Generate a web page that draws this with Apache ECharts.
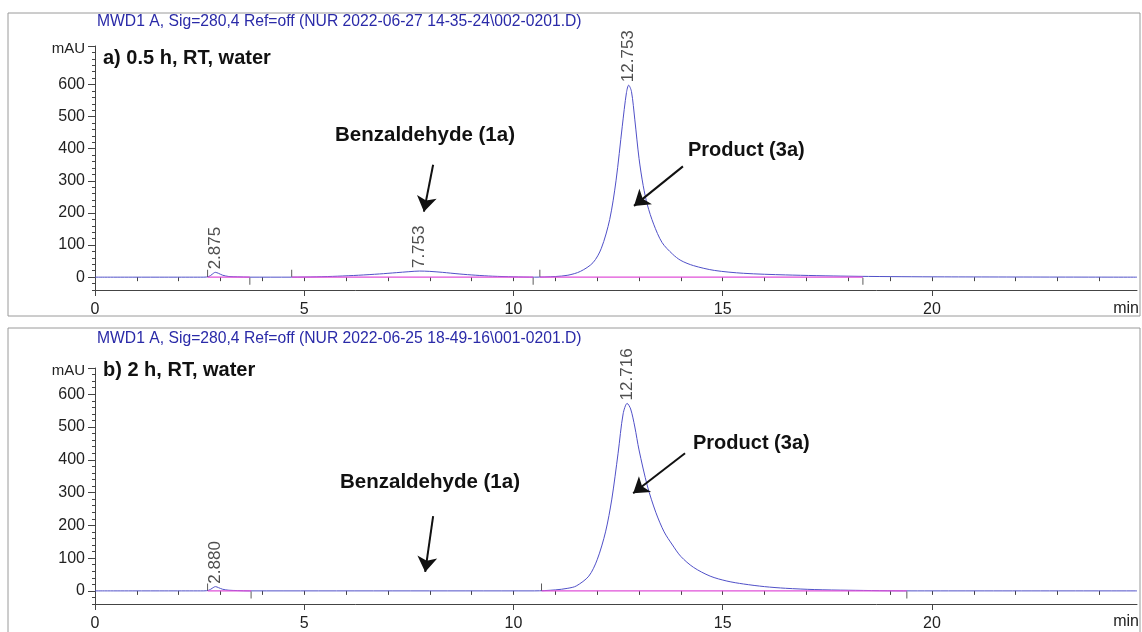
<!DOCTYPE html>
<html><head><meta charset="utf-8">
<script src="https://cdn.jsdelivr.net/npm/echarts@6/dist/echarts.min.js"></script>
<style>html,body{margin:0;padding:0;background:#fff}#c{width:1142px;height:632px}</style>
</head><body><div id="c"></div>
<script>
// ---- data ----
const timeA = [0, 2.6, 2.72, 2.8, 2.875, 2.95, 3.05, 3.2, 3.4, 3.7, 4.7, 5.3, 5.8, 6.3, 6.8, 7.2, 7.5, 7.753, 8.0, 8.3, 8.7, 9.1, 9.5, 10.0, 10.5, 11.0, 11.3, 11.6, 11.9, 12.1, 12.3, 12.45, 12.6, 12.7, 12.753, 12.82, 12.9, 13.0, 13.1, 13.2, 13.35, 13.55, 13.8, 14.0, 14.3, 14.8, 15.5, 16.5, 18.0, 20.0, 24.9];
const valA  = [0, 0, 2, 9, 15, 12, 6, 2, 1, 0, 0, 1, 3, 6, 10, 14, 17, 19, 18, 15, 10, 6, 3, 1, 0, 2, 6, 18, 45, 90, 180, 300, 470, 575, 598, 578, 490, 370, 285, 225, 165, 108, 72, 52, 36, 21, 12, 7, 3, 1, 0];
const timeB = [0, 2.6, 2.72, 2.8, 2.88, 2.95, 3.05, 3.2, 3.4, 3.7, 10.5, 11.0, 11.3, 11.5, 11.8, 12.0, 12.2, 12.35, 12.5, 12.62, 12.716, 12.8, 12.9, 13.0, 13.2, 13.4, 13.6, 13.8, 14.0, 14.3, 14.7, 15.1, 15.5, 16.0, 16.5, 17.2, 18.0, 19.5, 24.9];
const valB  = [0, 0, 2, 8, 13, 10, 5, 2, 1, 0, 0, 3, 8, 15, 45, 95, 180, 280, 420, 540, 572, 555, 500, 430, 320, 240, 180, 140, 105, 72, 45, 30, 21, 13, 8, 4, 2, 0, 0];
const peakTimesA = [2.875, 7.753, 12.753];
const peakHeightsA = [15, 19, 598];
const peakTimesB = [2.880, 12.716];
const peakHeightsB = [13, 572];
const baselineA = [[2.69, 3.70], [4.70, 10.47], [10.63, 18.35]];
const baselineB = [[2.69, 3.73], [10.67, 19.4]];
const eventsUpA = [2.69, 4.70, 10.63];
const eventsDownA = [3.70, 10.47, 18.35];
const eventsUpB = [2.69, 10.67];
const eventsDownB = [3.73, 19.4];
const xMajorTicks = [0, 5, 10, 15, 20];
const xMinorTicks = [0,1,2,3,4,5,6,7,8,9,10,11,12,13,14,15,16,17,18,19,20,21,22,23,24];
const yTickLabels = [0, 100, 200, 300, 400, 500, 600];
const titleA = 'MWD1 A, Sig=280,4 Ref=off (NUR 2022-06-27 14-35-24\\002-0201.D)';
const titleB = 'MWD1 A, Sig=280,4 Ref=off (NUR 2022-06-25 18-49-16\\001-0201.D)';
const panelA = 'a) 0.5 h, RT, water';
const panelB = 'b) 2 h, RT, water';
// arrows in data coordinates [x0,y0,x1,y1]
const arrowsA = [[8.08, 350, 7.86, 204], [14.05, 345, 12.88, 222]];
const arrowsB = [[8.08, 228, 7.89, 58], [14.1, 420, 12.86, 298]];

const FONT = 'Liberation Sans, Arial, sans-serif';
const LINE = '#5050c8';
const MAG = '#e050d8';
const AX = '#444';

const chart = echarts.init(document.getElementById('c'), null, {renderer: 'canvas'});
const zip = (t, v) => t.map((x, i) => [x, v[i]]);

function xAxes(grid) {
  return [
    {gridIndex: grid, type: 'value', min: 0, max: 24.9, position: 'bottom',
     axisLine: {onZero: false, lineStyle: {color: AX, width: 1}},
     axisTick: {customValues: xMajorTicks, length: 6, lineStyle: {color: AX}},
     axisLabel: {customValues: xMajorTicks, margin: 12, fontFamily: FONT, fontSize: 16, color: '#222'},
     splitLine: {show: false}},
    {gridIndex: grid, type: 'value', min: 0, max: 24.9, position: 'bottom',
     axisLine: {show: false},
     axisTick: {customValues: xMinorTicks, length: 4, lineStyle: {color: AX}},
     axisLabel: {show: false}, splitLine: {show: false}}
  ];
}
function yAxes(grid, max) {
  return [
    {gridIndex: grid, type: 'value', min: -40, max: max, position: 'left',
     axisLine: {show: true, onZero: false, lineStyle: {color: AX, width: 1}},
     axisTick: {customValues: yTickLabels.concat([max]), length: 7, lineStyle: {color: AX}},
     axisLabel: {customValues: yTickLabels, margin: 10, fontFamily: FONT, fontSize: 16, color: '#222'},
     splitLine: {show: false},
     name: 'mAU', nameLocation: 'end', nameGap: -3,
     nameTextStyle: {fontFamily: FONT, fontSize: 15, color: '#222', align: 'right', verticalAlign: 'middle', padding: [0, 10, 0, 0]}},
    {gridIndex: grid, type: 'value', min: -40, max: max, interval: 20, position: 'left',
     axisLine: {show: false},
     axisTick: {length: 3, lineStyle: {color: AX}},
     axisLabel: {show: false}, splitLine: {show: false}}
  ];
}
function panelSeries(grid, t, v, pt, ph, base, up, down, arrows) {
  const xi = grid * 2, yi = grid * 2;
  const s = [];
  s.push({type: 'line', xAxisIndex: xi, yAxisIndex: yi, data: zip(t, v), showSymbol: false, symbol: 'none',
    smooth: 0.3, lineStyle: {color: LINE, width: 1}, z: 3, silent: true,
    markLine: {silent: true, symbol: ['none', 'arrow'], symbolSize: 15, animation: false,
      lineStyle: {color: '#111', width: 2, type: 'solid'}, label: {show: false},
      data: arrows.map(a => [{coord: [a[0], a[1]], symbol: 'none'}, {coord: [a[2], a[3]], symbol: 'arrow', symbolSize: 15}])}});
  base.forEach(b => s.push({type: 'line', xAxisIndex: xi, yAxisIndex: yi, data: [[b[0], 0], [b[1], 0]],
    symbol: 'none', lineStyle: {color: MAG, width: 1.2}, z: 4, silent: true}));
  s.push({type: 'scatter', xAxisIndex: xi, yAxisIndex: yi, data: up.map(x => [x, 0]), symbol: 'rect',
    symbolSize: [1, 7], symbolOffset: [0, -4], itemStyle: {color: '#333'}, silent: true, z: 5});
  s.push({type: 'scatter', xAxisIndex: xi, yAxisIndex: yi, data: down.map(x => [x, 0]), symbol: 'rect',
    symbolSize: [1, 7], symbolOffset: [0, 4], itemStyle: {color: '#333'}, silent: true, z: 5});
  s.push({type: 'scatter', xAxisIndex: xi, yAxisIndex: yi, data: zip(pt, ph), symbolSize: 0, silent: true, z: 6,
    label: {show: true, position: 'top', distance: 3, rotate: 90, align: 'left', verticalAlign: 'middle',
      fontFamily: FONT, fontSize: 17, color: '#222', formatter: p => p.value[0].toFixed(3)}});
  return s;
}

chart.setOption({
  animation: false,
  backgroundColor: '#fff',
  grid: [
    {left: 95, right: 5, top: 46, bottom: 342},
    {left: 95, right: 5, top: 368, bottom: 28}
  ],
  xAxis: xAxes(0).concat(xAxes(1)),
  yAxis: yAxes(0, 720).concat(yAxes(1, 680)),
  series: panelSeries(0, timeA, valA, peakTimesA, peakHeightsA, baselineA, eventsUpA, eventsDownA, arrowsA)
    .concat(panelSeries(1, timeB, valB, peakTimesB, peakHeightsB, baselineB, eventsUpB, eventsDownB, arrowsB)),
  graphic: [
    {type: 'rect', shape: {x: 8, y: 13, width: 1132, height: 303}, style: {fill: 'none', stroke: '#9a9a9a', lineWidth: 1}, silent: true},
    {type: 'rect', shape: {x: 8, y: 328, width: 1132, height: 320}, style: {fill: 'none', stroke: '#9a9a9a', lineWidth: 1}, silent: true},
    {type: 'text', x: 97, y: 22, silent: true, style: {text: titleA, font: '15.7px ' + FONT, fill: '#2a2aa8', verticalAlign: 'middle'}},
    {type: 'text', x: 97, y: 339, silent: true, style: {text: titleB, font: '15.7px ' + FONT, fill: '#2a2aa8', verticalAlign: 'middle'}},
    {type: 'text', x: 103, y: 58, silent: true, style: {text: panelA, font: 'bold 20px ' + FONT, fill: '#111', verticalAlign: 'middle'}},
    {type: 'text', x: 103, y: 370, silent: true, style: {text: panelB, font: 'bold 20px ' + FONT, fill: '#111', verticalAlign: 'middle'}},
    {type: 'text', x: 425, y: 135, silent: true, style: {text: 'Benzaldehyde (1a)', font: 'bold 20.5px ' + FONT, fill: '#111', align: 'center', verticalAlign: 'middle'}},
    {type: 'text', x: 688, y: 150, silent: true, style: {text: 'Product (3a)', font: 'bold 20px ' + FONT, fill: '#111', verticalAlign: 'middle'}},
    {type: 'text', x: 430, y: 482, silent: true, style: {text: 'Benzaldehyde (1a)', font: 'bold 20.5px ' + FONT, fill: '#111', align: 'center', verticalAlign: 'middle'}},
    {type: 'text', x: 693, y: 443, silent: true, style: {text: 'Product (3a)', font: 'bold 20px ' + FONT, fill: '#111', verticalAlign: 'middle'}},
    {type: 'text', x: 1139, y: 309, silent: true, style: {text: 'min', font: '16px ' + FONT, fill: '#222', align: 'right', verticalAlign: 'middle'}},
    {type: 'text', x: 1139, y: 622, silent: true, style: {text: 'min', font: '16px ' + FONT, fill: '#222', align: 'right', verticalAlign: 'middle'}}
  ]
});
</script></body></html>
